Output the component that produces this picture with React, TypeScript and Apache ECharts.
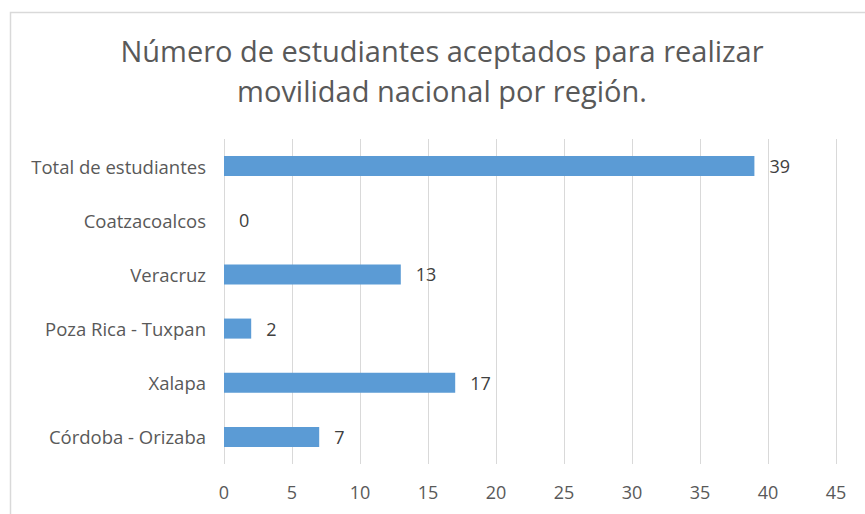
import React, { useEffect, useRef } from "react";
import * as echarts from "echarts";

const categories = [
  "Córdoba - Orizaba",
  "Xalapa",
  "Poza Rica - Tuxpan",
  "Veracruz",
  "Coatzacoalcos",
  "Total de estudiantes",
];
const values = [7, 17, 2, 13, 0, 39];
const titleText = "Número de estudiantes aceptados para realizar\nmovilidad nacional por región.";

export default function App() {
  const ref = useRef<HTMLDivElement>(null);
  useEffect(() => {
    if (!ref.current) return;
    const chart = echarts.init(ref.current, undefined, { renderer: "svg" });
    const font = "'Open Sans', sans-serif";
    chart.setOption({
      animation: false,
      backgroundColor: "#ffffff",
      title: {
        text: titleText,
        left: 437,
        textAlign: "center",
        top: 25,
        textStyle: {
          fontFamily: font,
          fontSize: 29,
          fontWeight: "normal",
          color: "#595959",
          lineHeight: 40,
        },
      },
      graphic: [
        {
          type: "rect",
          shape: { x: 10.5, y: 12.5, width: 900, height: 600 },
          style: { fill: "none", stroke: "#d9d9d9", lineWidth: 1.5 },
          silent: true,
        },
      ],
      grid: { left: 224, right: 29, top: 139, bottom: 50, containLabel: false },
      xAxis: {
        type: "value",
        min: 0,
        max: 45,
        interval: 5,
        axisLine: { show: false },
        axisTick: { show: false },
        splitLine: { show: true, lineStyle: { color: "#d9d9d9", width: 1 } },
        axisLabel: {
          fontFamily: font,
          fontSize: 18,
          color: "#595959",
          margin: 19,
        },
      },
      yAxis: {
        type: "category",
        data: categories,
        axisLine: { show: false },
        axisTick: { show: false },
        splitLine: { show: false },
        axisLabel: {
          fontFamily: font,
          fontSize: 18.5,
          color: "#595959",
          margin: 18,
        },
      },
      series: [
        {
          type: "bar",
          data: values,
          barWidth: "37%",
          itemStyle: { color: "#5b9bd5" },
          label: {
            show: true,
            position: "right",
            distance: 15,
            fontFamily: font,
            fontSize: 18,
            color: "#404040",
          },
        },
      ],
    });
    return () => chart.dispose();
  }, []);
  return (
    <div
      ref={ref}
      style={{ position: "fixed", left: 0, top: 0, width: 865, height: 514 }}
    />
  );
}
